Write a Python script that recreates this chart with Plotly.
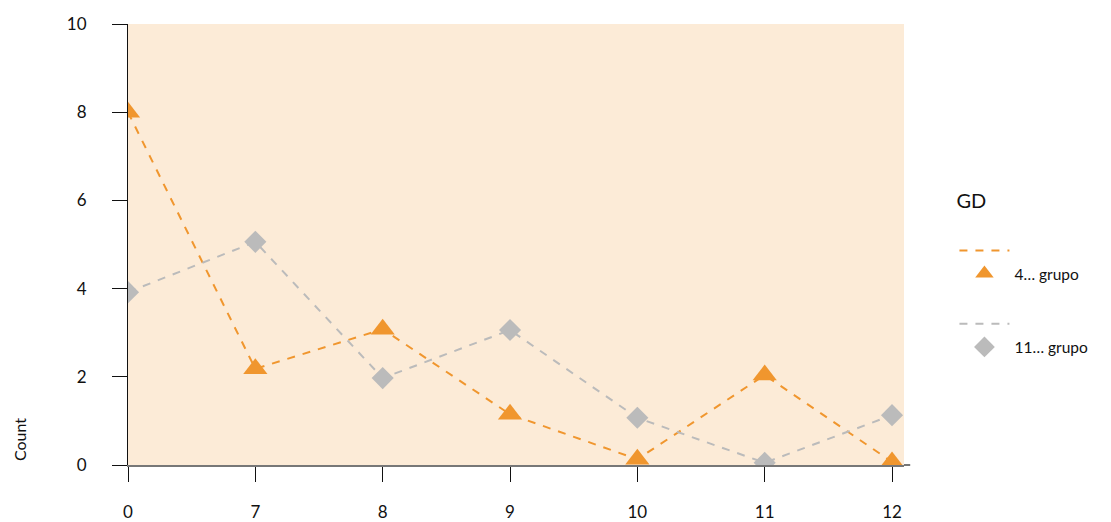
import plotly.graph_objects as go

categories = ["0", "7", "8", "9", "10", "11", "12"]
group_a_name = "4… grupo"
group_b_name = "11… grupo"
group_a_counts = [8.0, 2.18, 3.08, 1.15, 0.13, 2.04, 0.07]
group_b_counts = [3.92, 5.06, 1.97, 3.06, 1.07, 0.05, 1.13]
y_ticks = [0, 2, 4, 6, 8, 10]

ORANGE = "#F0962E"
GRAY = "#BBBBBB"
FONT = "Lato"

fig = go.Figure()
fig.add_trace(go.Scatter(x=categories, y=group_a_counts, mode="lines", name=" ",
                         line=dict(color=ORANGE, width=2, dash="8px,8px"),
                         legendgroup="a", hoverinfo="skip"))
fig.add_trace(go.Scatter(x=categories, y=group_a_counts, mode="markers", name=group_a_name,
                         marker=dict(symbol="triangle-up", size=21, color=ORANGE),
                         legendgroup="a"))
fig.add_trace(go.Scatter(x=categories, y=group_b_counts, mode="lines", name=" ",
                         line=dict(color=GRAY, width=2, dash="8px,8px"),
                         legendgroup="b", hoverinfo="skip"))
fig.add_trace(go.Scatter(x=categories, y=group_b_counts, mode="markers", name=group_b_name,
                         marker=dict(symbol="diamond", size=17, color=GRAY),
                         legendgroup="b"))

fig.update_layout(
    width=1111, height=522,
    margin=dict(l=120, r=215, t=16, b=65, autoexpand=False),
    paper_bgcolor="white",
    plot_bgcolor="#FCEBD7",
    font=dict(family=FONT, size=17, color="#111111"),
    showlegend=True,
    legend=dict(
        title=dict(text="GD<br> ", font=dict(size=20, color="#111111")),
        x=1.065, xanchor="left", y=0.642, yanchor="top",
        font=dict(size=15.5), tracegroupgap=27, itemwidth=50,
        bgcolor="rgba(0,0,0,0)",
    ),
    xaxis=dict(
        type="category", categoryorder="array", categoryarray=categories,
        range=[0, 6.094], showgrid=False, zeroline=False, automargin=False,
        showline=True, linecolor="#777777", linewidth=2,
        ticks="outside", ticklen=15, tickcolor="#111111", tickwidth=1,
        ticklabelstandoff=16, tickfont=dict(size=17),
    ),
    yaxis=dict(
        range=[0, 10], tickvals=y_ticks, showgrid=False, zeroline=False, automargin=False,
        showline=True, linecolor="#111111", linewidth=1,
        ticks="outside", ticklen=15, tickcolor="#111111", tickwidth=1,
        ticklabelstandoff=22, tickfont=dict(size=17),
    ),
    shapes=[dict(type="line", xref="paper", yref="paper", x0=1.0, x1=1.008, y0=0, y1=0,
                 line=dict(color="#777777", width=2))],
    annotations=[dict(text="Count", xref="paper", yref="paper", x=-0.139, y=0.057,
                      xanchor="center", yanchor="middle", textangle=-90,
                      showarrow=False, font=dict(size=16, color="#111111"))],
)

fig.write_html("out.html")
